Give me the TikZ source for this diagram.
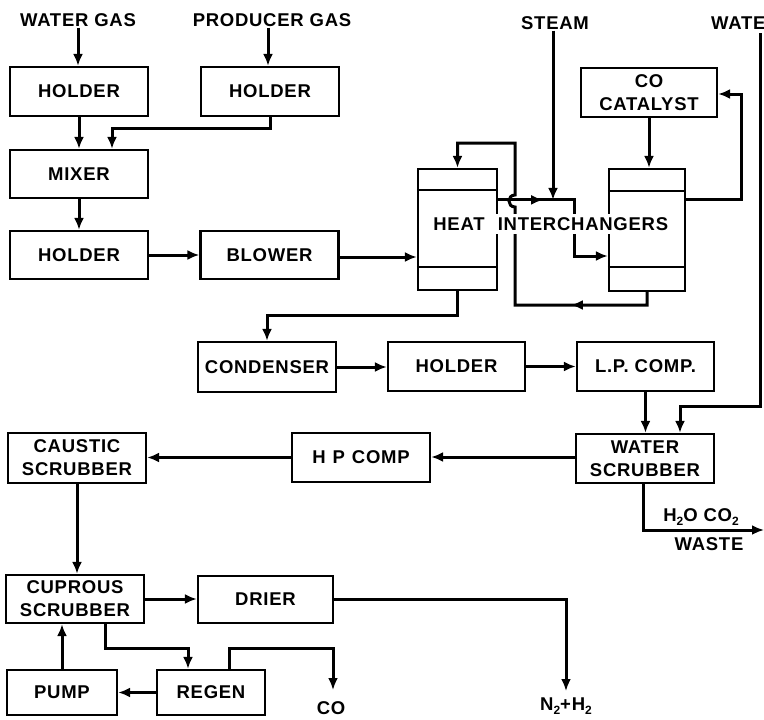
\documentclass[tikz,border=0pt]{standalone}
\usepackage{fontspec}
\setmainfont{Liberation Sans}[LetterSpace=4]
\usetikzlibrary{arrows.meta,decorations.markings}
\newcommand\dn[1]{\raisebox{-0.35ex}{\fontsize{12}{12}\selectfont #1}}
\begin{document}
\begin{tikzpicture}[x=1pt,y=-1pt,
  every node/.style={font=\fontsize{18.5}{23}\selectfont\bfseries},
  box/.style={draw, line width=2.2pt, inner sep=0pt, align=center},
  lbl/.style={inner sep=1pt, align=center},
  flow/.style={line width=3pt, -{Latex[length=12pt,width=10pt]}},
  midarrow/.style={postaction={decorate,decoration={markings,mark=at position #1 with {\arrow{Latex[length=12pt,width=10pt]}}}}}]
\useasboundingbox (0,0) rectangle (764,720);

% boxes
\node[box,minimum width=138pt,minimum height=49pt] (h1) at (79,91.5) {HOLDER};
\node[box,minimum width=138pt,minimum height=49pt] (h2) at (270,91.5) {HOLDER};
\node[box,minimum width=138pt,minimum height=48pt] (mix) at (79,174) {MIXER};
\node[box,minimum width=138pt,minimum height=48pt] (h3) at (79,255) {HOLDER};
\node[box,minimum width=138pt,minimum height=48pt] (blow) at (269.5,255) {BLOWER};
\node[box,minimum width=79pt,minimum height=121pt] (hx1) at (457.5,229.5) {};
\node[box,minimum width=76pt,minimum height=122pt] (hx2) at (647,230) {};
\node[box,minimum width=136pt,minimum height=49pt,font=\fontsize{18.5}{23}\selectfont\bfseries] (cat) at (649,92.5) {CO\\CATALYST};
\node[box,minimum width=138pt,minimum height=50pt] (cond) at (267,367) {CONDENSER};
\node[box,minimum width=137pt,minimum height=49pt] (h4) at (456.5,366.5) {HOLDER};
\node[box,minimum width=137pt,minimum height=49pt] (lp) at (645.5,366.5) {L.P. COMP.};
\node[box,minimum width=138pt,minimum height=49pt,font=\fontsize{18.5}{23}\selectfont\bfseries] (ws) at (645,458.5) {WATER\\SCRUBBER};
\node[box,minimum width=138pt,minimum height=49pt] (hp) at (361,457.5) {H\hspace{7pt}P\hspace{7pt}COMP};
\node[box,minimum width=138pt,minimum height=50pt,font=\fontsize{18.5}{23}\selectfont\bfseries] (cs) at (77,458) {CAUSTIC\\SCRUBBER};
\node[box,minimum width=138pt,minimum height=48pt,font=\fontsize{18.5}{23}\selectfont\bfseries] (cu) at (75,599) {CUPROUS\\SCRUBBER};
\node[box,minimum width=135pt,minimum height=47pt] (dr) at (265.5,599.5) {DRIER};
\node[box,minimum width=110pt,minimum height=45pt] (pump) at (62,692.5) {PUMP};
\node[box,minimum width=108pt,minimum height=45pt] (reg) at (211,692.5) {REGEN};

% inner lines of the heat interchangers
\draw[line width=2.2pt] ([yshift=-22pt]hx1.north west) -- ([yshift=-22pt]hx1.north east);
\draw[line width=2.2pt] ([yshift=24pt]hx1.south west) -- ([yshift=24pt]hx1.south east);
\draw[line width=2.2pt] ([yshift=-23pt]hx2.north west) -- ([yshift=-23pt]hx2.north east);
\draw[line width=2.2pt] ([yshift=25pt]hx2.south west) -- ([yshift=25pt]hx2.south east);

% labels
\node[lbl] (wg) at (78,20) {WATER GAS};
\node[lbl] (pg) at (272,20) {PRODUCER GAS};
\node[lbl] (st) at (555,23) {STEAM};
\node[lbl,anchor=west] (wt) at (710,23) {WATE};
\node[lbl] (co) at (331,708) {CO};
\node[lbl] (nh) at (566,706) {N\dn{2}+H\dn{2}};
\node[lbl] (h2o) at (701,517) {H\dn{2}O CO\dn{2}};
\node[lbl] (waste) at (709,544) {WASTE};
\node[lbl] (heat) at (459,224) {HEAT};

% helper coordinates
\coordinate (j1) at ([yshift=-32pt]hx1.north east);
\coordinate (r1) at (515,305);
\coordinate (r2) at (515,207);
\coordinate (r3) at (515,195);
\coordinate (r4) at (515,143);
\coordinate (wtop) at (760,33);
\coordinate (wend) at (764,530);
\coordinate (nhtop) at (566,691);
\coordinate (cotop) at (333,690);

% connectors
\draw[flow] (wg.south) -- (wg.south |- h1.north);
\draw[flow] ([xshift=-4pt]pg.south) -- ([xshift=-4pt]pg.south |- h2.north);
\draw[flow] (h1.south) -- (mix.north);
\draw[flow] (h2.south) -- ++(0,11) -| ([xshift=33pt]mix.north);
\draw[flow] (mix.south) -- (h3.north);
\draw[flow] (h3.east) -- (blow.west);
\draw[flow] ([yshift=-2pt]blow.east) -- ([yshift=-2pt]blow.east -| hx1.west);
\draw[flow,midarrow=45pt] (j1) -- ++(76,0) |- ([yshift=-26pt]hx2.west);
\draw[flow] ([xshift=-2pt]st.south) -- ([xshift=-2pt]st.south |- j1);
\draw[flow] (cat.south) -- (cat.south |- hx2.north);
\draw[flow] ([yshift=-32pt]hx2.north east) -- ++(55,0) |- ([yshift=-1.5pt]cat.east);
\draw[flow,midarrow=89pt] (hx2.south) |- (r1) -- (r2) .. controls (507,207) and (507,195) .. (r3) -- (r4) -| (hx1.north);
\draw[flow] (hx1.south) -- ++(0,24) -| (cond.north);
\draw[flow] (cond.east) -- (cond.east -| h4.west);
\draw[flow] (h4.east) -- (h4.east -| lp.west);
\draw[flow] (lp.south) -- (lp.south |- ws.north);
\draw[flow] (wtop) |- ([xshift=35pt,yshift=26pt]ws.north) -- ([xshift=35pt]ws.north);
\draw[flow] ([yshift=1.5pt]ws.west) -- ([yshift=1.5pt]ws.west -| hp.east);
\draw[flow] (hp.west) -- (hp.west -| cs.east);
\draw[flow] (cs.south) -- (cs.south |- cu.north);
\draw[flow] ([xshift=-2pt]ws.south) |- (wend);
\draw[flow] (cu.east) -- (cu.east -| dr.west);
\draw[flow] (dr.east) -| (nhtop);
\draw[flow] (pump.north) -- (pump.north |- cu.south);
\draw[flow] ([xshift=30pt]cu.south) -- ++(0,24) -| ([xshift=-23pt]reg.north);
\draw[flow] (reg.west) -- (reg.west -| pump.east);
\draw[flow] ([xshift=18pt]reg.north) -- ++(0,-20) -| (cotop);

% text over the heat interchangers, hiding the lines behind it
\node[lbl,fill=white,inner xsep=5pt,inner ysep=3pt] (ich) at (583,224) {INTERCHANGERS};
\end{tikzpicture}
\end{document}
